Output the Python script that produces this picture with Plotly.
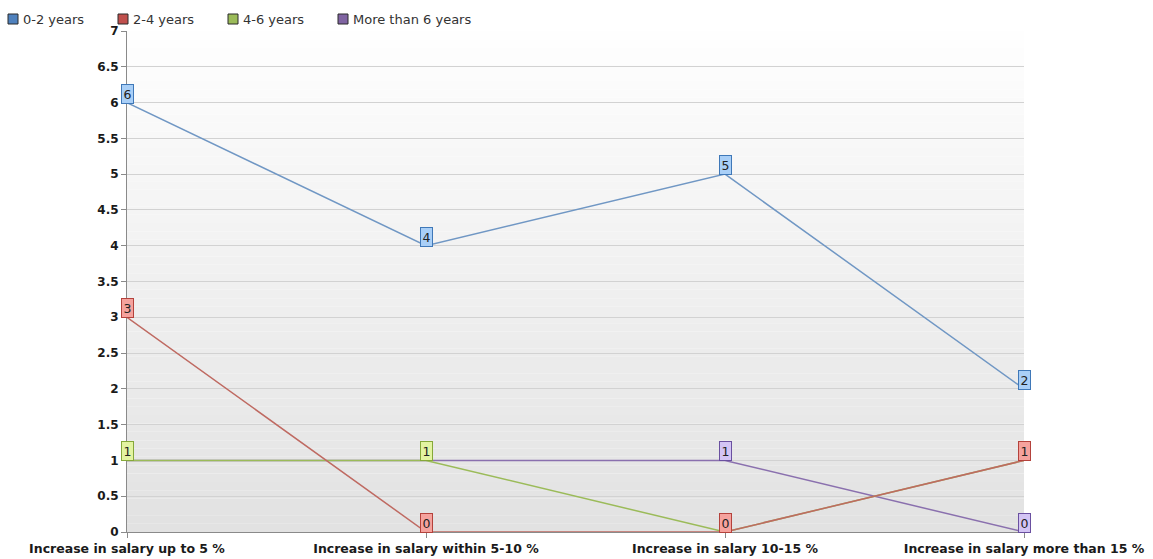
import plotly.graph_objects as go

categories = [
    "Increase in salary up to 5 %",
    "Increase in salary within 5-10 %",
    "Increase in salary 10-15 %",
    "Increase in salary more than 15 %",
]
series_names = ["0-2 years", "2-4 years", "4-6 years", "More than 6 years"]
years_0_2 = [6, 4, 5, 2]
years_2_4 = [3, 0, 0, 1]
years_4_6 = [1, 1, 0, 1]
years_6_plus = [1, 1, 1, 0]
y_ticks = [0, 0.5, 1, 1.5, 2, 2.5, 3, 3.5, 4, 4.5, 5, 5.5, 6, 6.5, 7]

series_values = [years_0_2, years_2_4, years_4_6, years_6_plus]
line_colors = ["#7097c4", "#bf6a62", "#9bbb59", "#8a70ae"]
label_fills = ["#a9cff7", "#f5a29d", "#e3f4a1", "#d3c4f4"]
label_borders = ["#3f78b8", "#b4423c", "#86a83a", "#6a50a0"]
legend_fills = ["#4f81bd", "#c0504d", "#9bbb59", "#8064a2"]

FONT = "DejaVu Sans, Verdana, sans-serif"

PLOT_LEFT, PLOT_RIGHT, PLOT_TOP, PLOT_BOTTOM = 127, 1024, 31, 532
W, H = 1153, 559


def px_to_paper_x(px):
    return (px - PLOT_LEFT) / (PLOT_RIGHT - PLOT_LEFT)


def px_to_paper_y(py):
    return (PLOT_BOTTOM - py) / (PLOT_BOTTOM - PLOT_TOP)


fig = go.Figure()

# earlier series are drawn last so they sit on top
for i in reversed(range(len(series_names))):
    fig.add_trace(go.Scatter(
        x=categories, y=series_values[i], mode="lines", name=series_names[i],
        line=dict(color=line_colors[i], width=1.5),
        showlegend=False, hoverinfo="skip",
    ))

# value labels, earlier series on top
annotations = []
for i in reversed(range(len(series_names))):
    for cat, val in zip(categories, series_values[i]):
        annotations.append(dict(
            x=cat, y=val, xref="x", yref="y", text=str(val),
            showarrow=False, yshift=9,
            font=dict(family=FONT, size=12.5, color="#222"),
            bgcolor=label_fills[i], bordercolor=label_borders[i],
            borderwidth=1, borderpad=1.5,
        ))

# vertical gradient behind the plot area
shapes = []
n_strips = 60
for k in range(n_strips):
    t = k / (n_strips - 1)
    g = round(254 - (254 - 226) * t)
    shapes.append(dict(
        type="rect", xref="x domain", yref="y domain",
        x0=0, x1=1, y0=1 - (k + 1) / n_strips, y1=1 - k / n_strips,
        fillcolor=f"rgb({g},{g},{g})", line=dict(width=0), layer="below",
    ))

# legend row: bordered colour squares followed by series names
legend_step = 110
legend_y = px_to_paper_y(19)
for i, name in enumerate(series_names):
    sq_center = 13 + i * legend_step
    shapes.append(dict(
        type="rect", xref="paper", yref="paper",
        xsizemode="pixel", ysizemode="pixel",
        xanchor=px_to_paper_x(sq_center), yanchor=legend_y,
        x0=-5, x1=5, y0=-5, y1=5,
        fillcolor=legend_fills[i], line=dict(color="#2a2a2a", width=1),
    ))
    annotations.append(dict(
        x=px_to_paper_x(sq_center + 8), y=legend_y, xref="paper", yref="paper",
        xanchor="left", yanchor="middle", showarrow=False, text=name,
        font=dict(family=FONT, size=13, color="#333"),
    ))

fig.update_layout(
    width=W, height=H,
    margin=dict(l=PLOT_LEFT, r=W - PLOT_RIGHT, t=PLOT_TOP, b=H - PLOT_BOTTOM),
    paper_bgcolor="white", plot_bgcolor="rgba(0,0,0,0)",
    font=dict(family=FONT, size=12, color="#222"),
    annotations=annotations, shapes=shapes, showlegend=False,
    xaxis=dict(
        type="category", range=[0, 3], showgrid=False, automargin=False,
        showline=True, linecolor="#8a8a8a", linewidth=1,
        ticks="outside", ticklen=5, tickcolor="#8a8a8a",
        tickfont=dict(family=FONT, size=12.5, color="#1a1a1a", weight="bold"),
        fixedrange=True,
    ),
    yaxis=dict(
        range=[0, 7], tickvals=y_ticks,
        ticktext=[f"{v:g}" for v in y_ticks],
        showgrid=True, gridcolor="#d2d2d2", gridwidth=1,
        showline=True, linecolor="#8a8a8a", linewidth=1,
        ticks="outside", ticklen=5, tickcolor="#8a8a8a",
        tickfont=dict(family=FONT, size=12, color="#1a1a1a", weight="bold"),
        zeroline=False, automargin=False, fixedrange=True,
    ),
)

fig.write_html("out.html")
